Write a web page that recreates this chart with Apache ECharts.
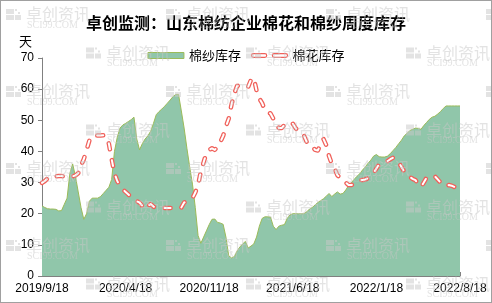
<!DOCTYPE html>
<html><head><meta charset="utf-8">
<script src="https://cdn.jsdelivr.net/npm/echarts@6/dist/echarts.min.js"></script>
<style>
html,body{margin:0;padding:0;background:#fff;}
#c{width:492px;height:303px;box-sizing:border-box;border:1px solid #a0a0a0;}
</style></head><body>
<div id="c"></div>
<script>
const titleText = '卓创监测：山东棉纺企业棉花和棉纱周度库存';
const yUnit = '天';
const tickLabels = ['2019/9/18','2020/4/18','2020/11/18','2021/6/18','2022/1/18','2022/8/18'];
const seriesNames = ['棉纱库存','棉花库存'];
// weekly index categories
const weeks = [];
for (let i = 0; i <= 150; i++) weeks.push(String(i));

const yarnStock = [
22.5,22.0,21.6,21.5,21.5,21.4,20.9,21.0,23.0,25.0,
33.0,36.0,32.0,27.0,22.0,18.2,20.0,24.0,25.0,25.0,
25.0,25.5,26.5,27.5,28.5,31.0,40.0,44.5,47.5,48.5,
49.0,49.6,50.2,51.0,44.0,40.5,42.5,44.0,45.0,46.5,
49.0,51.8,52.8,53.6,54.5,55.5,56.5,57.6,58.3,58.3,
53.0,47.5,41.0,35.0,29.5,22.0,13.0,10.5,12.5,14.5,
16.5,18.2,18.3,17.2,17.0,16.6,12.5,6.5,5.8,6.2,
8.0,9.3,10.3,11.1,9.0,9.6,10.3,12.5,16.0,18.5,
19.0,19.0,18.9,16.0,14.9,16.0,16.3,16.5,18.5,19.6,
20.0,20.0,20.0,20.0,20.0,20.6,21.5,22.0,22.8,23.6,
24.2,24.8,25.6,26.5,25.5,26.3,27.0,26.3,26.5,27.6,
29.0,30.0,31.0,32.0,32.8,34.0,35.0,36.2,37.2,38.5,
39.0,38.3,38.2,38.2,38.5,39.3,40.3,41.3,42.5,43.6,
45.0,45.8,46.7,47.1,47.5,47.4,47.1,48.3,49.3,50.3,
51.0,51.3,52.0,52.8,53.8,54.6,54.6,54.6,54.6,54.6,
54.6
];
const cottonStock = [
29.9,30.5,31.3,32.0,32.0,32.0,32.1,32.1,32.0,32.1,
31.8,32.0,32.3,33.0,35.5,37.5,40.5,43.5,45.1,45.1,
45.1,45.1,45.2,45.0,42.5,37.5,33.0,30.5,29.0,27.8,
27.0,26.2,25.2,24.5,24.0,23.6,22.5,21.4,22.5,23.1,
22.3,21.8,21.8,21.8,21.8,21.8,21.8,21.8,21.8,21.8,
22.0,23.6,24.0,24.5,25.0,26.8,29.2,33.5,36.5,39.5,
40.5,41.0,40.5,41.5,43.0,45.0,48.0,50.5,55.0,58.5,
61.0,61.2,61.0,60.6,60.8,63.0,63.6,59.5,57.0,55.5,
53.2,52.5,52.2,50.5,48.8,47.5,47.5,48.5,49.3,49.0,
48.9,47.5,46.5,45.8,45.1,43.0,42.0,41.6,40.5,40.3,
42.5,44.0,42.0,38.5,36.0,34.5,32.4,31.5,30.8,30.0,
29.2,29.2,29.6,30.3,30.8,30.8,31.0,31.4,32.3,33.1,
34.5,35.9,36.3,36.6,36.9,37.5,38.0,37.5,36.5,35.0,
33.5,32.5,31.8,31.2,30.8,29.5,28.6,30.0,31.6,32.0,
32.0,32.0,31.0,30.0,29.0,29.0,29.2,29.0,28.6,28.6,
28.6
];

const GREEN = '#90c6aa', GREEN_LINE = '#9bbb59', RED = '#f0605a';
const latin = '"Liberation Sans", Arial, sans-serif';
const cjk = '"Noto Sans CJK SC", sans-serif';

// watermark decoration
const wm = [];
const wmColor = 'rgba(200,200,200,0.5)';
for (let r = 0; r < 8; r++) {
  const y = 6 + r * 38.5;
  const xs = r % 2 === 0 ? [5, 165, 325, 485] : [85, 245, 405];
  xs.forEach(x => {
    wm.push({type:'rect', shape:{x:x, y:y+2, width:8, height:5}, style:{fill:wmColor}, z:100, silent:true});
    wm.push({type:'rect', shape:{x:x, y:y+8, width:8, height:5}, style:{fill:wmColor}, z:100, silent:true});
    wm.push({type:'rect', shape:{x:x+9, y:y+8, width:6, height:5}, style:{fill:wmColor}, z:100, silent:true});
    wm.push({type:'rect', shape:{x:x+9, y:y+2, width:2, height:2}, style:{fill:wmColor}, z:100, silent:true});
    wm.push({type:'rect', shape:{x:x+12, y:y+5, width:2, height:2}, style:{fill:wmColor}, z:100, silent:true});
    wm.push({type:'text', x:x+20, y:y-1, style:{text:'卓创资讯', fill:wmColor, font:'16px ' + cjk}, z:100, silent:true});
    wm.push({type:'text', x:x+21, y:y+13, style:{text:'SCI99.COM', fill:wmColor, font:'10px "Liberation Serif", serif'}, z:100, silent:true});
  });
}

const chart = echarts.init(document.getElementById('c'), null, {renderer:'canvas'});
chart.setOption({
  animation: false,
  backgroundColor: '#fff',
  title: {
    text: titleText, left: 'center', top: 9,
    textStyle: {fontSize: 16, fontWeight: 'bold', color: '#000', fontFamily: cjk}
  },
  legend: {
    top: 43, left: 'center', itemGap: 10, itemWidth: 36, itemHeight: 6,
    textStyle: {fontSize: 13, color: '#000', fontFamily: cjk},
    data: [
      {name: seriesNames[0], icon: 'rect', itemStyle: {color: GREEN, borderColor: GREEN_LINE, borderWidth: 1}},
      {name: seriesNames[1], icon: 'path://M2,0 h12 a2,2 0 0 1 0,4 h-12 a2,2 0 0 1 0,-4 Z M24,0 h12 a2,2 0 0 1 0,4 h-12 a2,2 0 0 1 0,-4 Z',
       itemStyle: {color: '#fff', borderColor: RED, borderWidth: 1.2}}
    ]
  },
  grid: {left: 41, right: 31, top: 57, bottom: 26, containLabel: false},
  xAxis: {
    type: 'category', data: weeks, boundaryGap: false,
    axisLine: {lineStyle: {color: '#808080'}},
    axisTick: {inside: true, length: 4, interval: 29, lineStyle: {color: '#808080'}},
    axisLabel: {interval: 29, margin: 7, color: '#000', fontSize: 12, fontFamily: latin,
      formatter: (v, i) => tickLabels[Math.round(i / 30)] || ''},
    splitLine: {show: false}
  },
  yAxis: {
    type: 'value', min: 0, max: 70, interval: 10,
    name: yUnit, nameLocation: 'end', nameGap: 10,
    nameTextStyle: {color: '#000', fontSize: 13, fontFamily: cjk, align: 'right', padding: [0, 10, 0, 0]},
    axisLine: {show: true, lineStyle: {color: '#808080'}},
    axisTick: {show: true, length: 4, lineStyle: {color: '#808080'}},
    axisLabel: {color: '#000', fontSize: 12, margin: 8, fontFamily: latin},
    splitLine: {show: false}
  },
  graphic: wm,
  series: [
    {name: seriesNames[0], type: 'line', data: yarnStock, symbol: 'none',
     lineStyle: {color: GREEN_LINE, width: 1}, itemStyle: {color: GREEN},
     areaStyle: {color: GREEN, opacity: 1}, z: 2},
    {name: seriesNames[1], type: 'line', data: cottonStock, symbol: 'none',
     itemStyle: {color: RED},
     lineStyle: {color: RED, width: 4.5, type: [6, 11], cap: 'round', join: 'round'}, z: 3},
    {name: 'cottonInner', type: 'line', data: cottonStock, symbol: 'none',
     lineStyle: {color: '#fff', width: 2, type: [6, 11], cap: 'round', join: 'round'}, z: 4}
  ]
});
</script>
</body></html>
